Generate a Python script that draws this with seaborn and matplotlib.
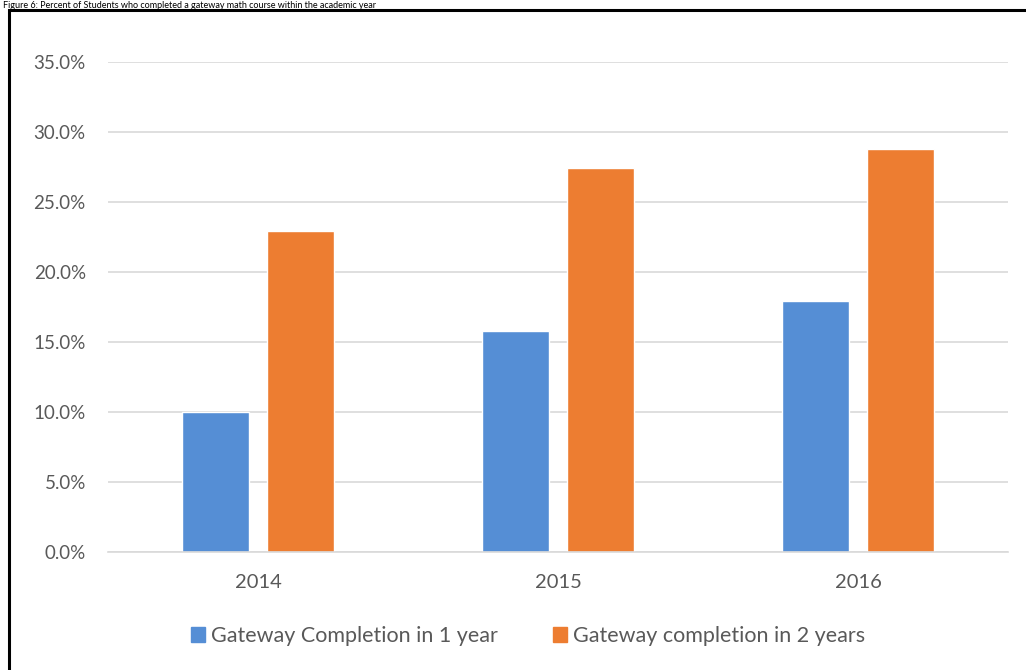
import matplotlib
matplotlib.use("Agg")
import matplotlib.pyplot as plt
import matplotlib.patches as mpatches
from matplotlib.ticker import PercentFormatter
import seaborn as sns
import pandas as pd

years = ["2014", "2015", "2016"]
series_names = ["Gateway Completion in 1 year", "Gateway completion in 2 years"]
one_year = [10.0, 15.8, 17.9]
two_years = [22.9, 27.4, 28.8]
colors = ["#558ED5", "#ED7D31"]
caption = "Figure 6: Percent of Students who completed a gateway math course within the academic year"

df = pd.DataFrame({
    "Year": years * 2,
    "Series": [series_names[0]] * len(years) + [series_names[1]] * len(years),
    "Value": one_year + two_years,
})

sns.set_theme(style="white")
plt.rcParams["font.family"] = ["Lato", "DejaVu Sans"]

W, H = 1026, 670
fig = plt.figure(figsize=(W / 100, H / 100), dpi=100)
ax = fig.add_axes([108 / W, (H - 552) / H, 900 / W, 490 / H])

sns.barplot(data=df, x="Year", y="Value", hue="Series", palette=colors,
            width=0.573, gap=0.22, ax=ax, legend=False, saturation=1)

ax.set_ylim(0, 35)
ax.set_xlim(-0.5, 2.5)
ax.set_yticks([0, 5, 10, 15, 20, 25, 30, 35])
ax.yaxis.set_major_formatter(PercentFormatter(decimals=1))
ax.set_xlabel("")
ax.set_ylabel("")
ax.grid(axis="y", color="#D9D9D9", linewidth=1.2)
ax.set_axisbelow(True)
for s in ["top", "right", "left"]:
    ax.spines[s].set_visible(False)
ax.spines["bottom"].set_color("#D9D9D9")
ax.spines["bottom"].set_linewidth(1.2)
ax.tick_params(axis="both", length=0, labelcolor="#595959")
ax.tick_params(axis="x", pad=16, labelsize=14.5)
ax.tick_params(axis="y", pad=16, labelsize=13.5)

handles = [mpatches.Patch(color=c, label=n) for c, n in zip(colors, series_names)]
fig.legend(handles=handles, loc="center", bbox_to_anchor=(528 / W, (H - 636) / H),
           ncol=2, frameon=False, fontsize=15.5, labelcolor="#595959",
           handlelength=0.65, handleheight=0.65, handletextpad=0.25, columnspacing=2.6)

# outer frame (partially visible)
fig.patches.append(mpatches.Rectangle((9 / W, -0.1), 1.2, (H - 10) / H + 0.1,
                                      transform=fig.transFigure, fill=False,
                                      edgecolor="black", linewidth=2.2))
# caption above the frame
fig.text(3 / W, 1 - 1 / H, caption, ha="left", va="top", fontsize=6.5, color="black")

fig.savefig("out.png", dpi=100)
